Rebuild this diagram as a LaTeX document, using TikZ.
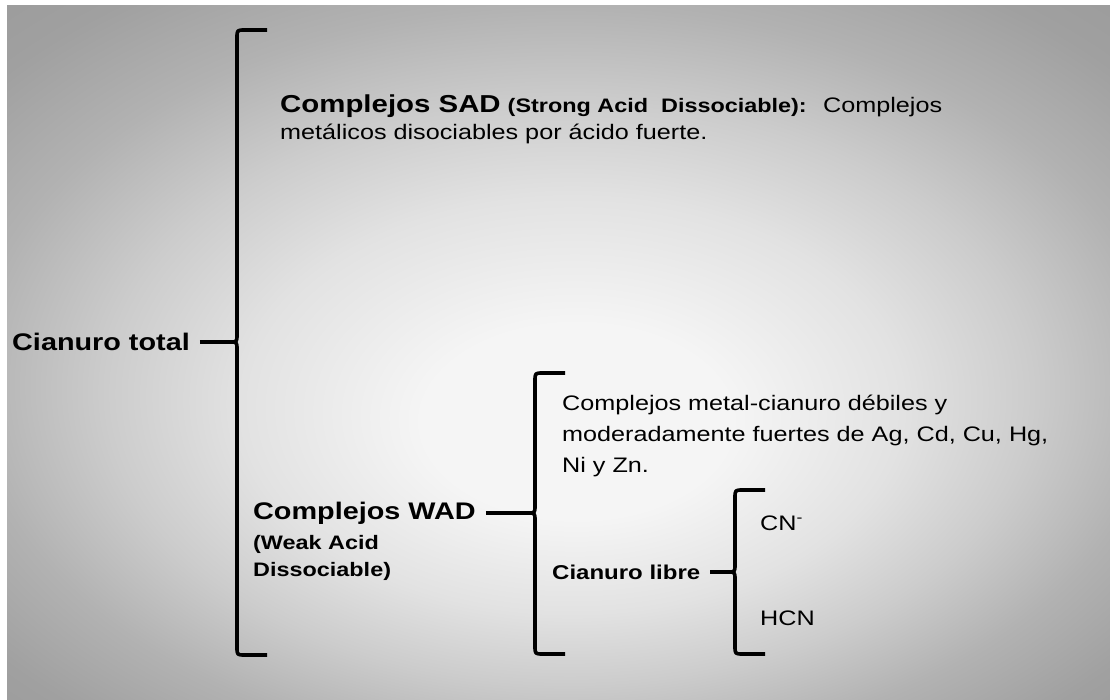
\documentclass[tikz,border=0pt]{standalone}
\usepackage{fontspec}
\setmainfont{Liberation Sans}[FakeStretch=1.2]
\usetikzlibrary{positioning}
\definecolor{fondoA}{HTML}{F5F5F5}
\definecolor{fondoB}{HTML}{E2E2E2}
\definecolor{fondoC}{HTML}{CCCCCC}
\definecolor{fondoD}{HTML}{B2B2B2}
\definecolor{fondoE}{HTML}{A0A0A0}
\definecolor{fondoF}{HTML}{989898}
\pgfdeclareradialshading{fondo}{\pgfpoint{1bp}{-6bp}}{color(0bp)=(fondoA); color(7bp)=(fondoA); color(15bp)=(fondoB); color(21bp)=(fondoC); color(27bp)=(fondoD); color(33bp)=(fondoE); color(40bp)=(fondoF)}
\tikzset{grande/.style={font=\fontsize{24}{28}\selectfont\bfseries}}
\tikzset{sub/.style={font=\fontsize{19.5}{27}\selectfont\bfseries}}
\tikzset{txt/.style={font=\fontsize{21}{31}\selectfont}}
\tikzset{linea/.style={line width=3.6pt, line join=round}}
\newcommand{\llave}[3]{
  \draw[linea] (30,-#1) -- (8,-#1) .. controls (0,-#1) .. (0,-#1+8)
    -- (0,-8) .. controls (0,0) .. (-7,0)
    .. controls (0,0) .. (0,8) -- (0,#2-8)
    .. controls (0,#2) .. (8,#2) -- (30,#2);
  \coordinate (#3) at (-7,0);
}

\begin{document}
\begin{tikzpicture}[x=1pt,y=-1pt]
    \useasboundingbox (0,0) rectangle (1110,700);
    \fill[white] (0,0) rectangle (1110,700);
    \shade[shading=fondo] (7,6) rectangle (1110,700);
    \begin{scope}[shift={(237,342)}]
      \llave{312}{313}{pA}
    \end{scope}
    \begin{scope}[shift={(535,513)}]
      \llave{140}{141}{pB}
    \end{scope}
    \begin{scope}[shift={(735,572)}]
      \llave{82}{82}{pC}
    \end{scope}
    \node[grande, anchor=west, inner xsep=5pt, inner ysep=0pt] (CT) at (7,342) {Cianuro total};
    \draw[linea, shorten <=5pt] (CT.east) -- (pA);
    \node[txt, anchor=north west, inner sep=0pt, align=left] (SAD) at (280,95)
      {{\bfseries\fontsize{24.5}{31}\selectfont Complejos SAD}
       {\bfseries\fontsize{19.5}{31}\selectfont (Strong Acid~ Dissociable):}~
       Complejos\\[-4pt]
       metálicos disociables por ácido fuerte.};
    \node[grande, anchor=west, inner xsep=5pt, inner ysep=0pt] (WAD) at (248,513) {Complejos WAD};
    \draw[linea, shorten <=5pt] (WAD.east) -- (pB);
    \node[sub, anchor=north west, inner sep=0pt, align=left] (W) at (253,535) {(Weak Acid\\Dissociable)};
    \node[txt, anchor=north west, inner sep=0pt, align=left] (M) at (562,395)
      {Complejos metal-cianuro débiles y\\moderadamente fuertes de Ag, Cd, Cu, Hg,\\Ni y Zn.};
    \node[font=\fontsize{20}{24}\selectfont\bfseries, anchor=west, inner xsep=5pt, inner ysep=0pt] (CL) at (547,572) {Cianuro libre};
    \draw[linea, shorten <=5pt] (CL.east) -- (pC);
    \node[txt, anchor=west, inner sep=0pt] (CN) at (760,523) {CN\textsuperscript{-}};
    \node[txt, anchor=west, inner sep=0pt] (HCN) at (760,618) {HCN};
  \end{tikzpicture}
\end{document}
